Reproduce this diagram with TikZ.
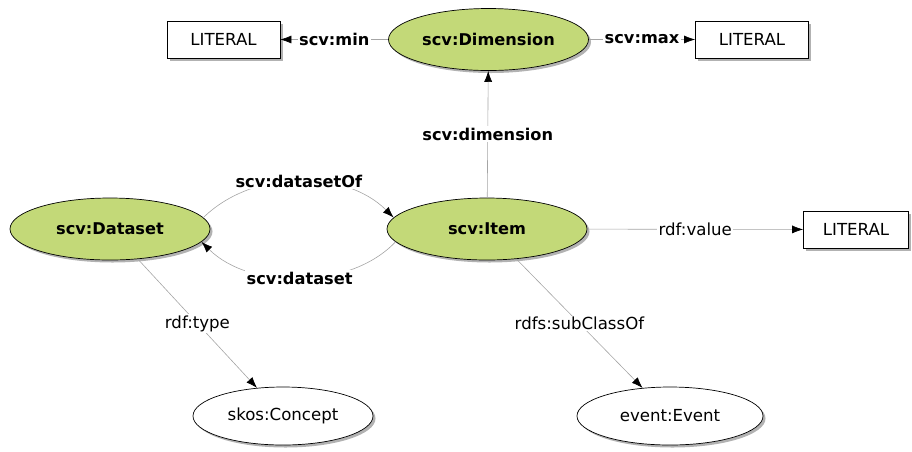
\documentclass[tikz,border=0pt]{standalone}
\usepackage{fontspec}
\setmainfont{DejaVu Sans}
\usetikzlibrary{shapes.geometric,arrows.meta,shadows}
\definecolor{clsgreen}{RGB}{195,217,120}
\definecolor{edgegray}{RGB}{165,165,165}
\begin{document}
\begin{tikzpicture}[x=1pt,y=-1pt,
  shad/.style={drop shadow={shadow xshift=2.5pt,shadow yshift=-2.5pt,fill=black,opacity=0.3}},
  regfont/.style={font=\fontsize{16.6}{19}\selectfont},
  boldfont/.style={font=\fontsize{16.2}{19}\selectfont\bfseries},
  clsnode/.style={ellipse,draw=black,line width=0.7pt,fill=clsgreen,minimum width=200pt,minimum height=62pt,inner sep=0pt,boldfont,shad},
  extnode/.style={ellipse,draw=black,line width=0.7pt,fill=white,minimum width=180pt,minimum height=58pt,inner sep=0pt,regfont,shad},
  litnode/.style={rectangle,draw=black,line width=0.7pt,fill=white,minimum width=113pt,minimum height=37pt,inner sep=0pt,regfont,shad},
  edge/.style={draw=edgegray,line width=0.6pt,-{Latex[length=11pt,width=8pt,black]}},
  lbl/.style={fill=white,inner sep=1.5pt,regfont},
  blbl/.style={fill=white,inner sep=1.5pt,boldfont}]
\useasboundingbox (0,0) rectangle (912,451);
% nodes
\node[clsnode] (dim) at (488.5,39.5) {scv:Dimension};
\node[litnode] (litL) at (223.5,39.5) {LITERAL};
\node[litnode] (litR) at (752,39.5) {LITERAL};
\node[clsnode] (ds) at (110,229) {scv:Dataset};
\node[clsnode] (it) at (487,229) {scv:Item};
\node[litnode,minimum width=105pt] (litV) at (856,229.5) {LITERAL};
\node[extnode] (sk) at (283,416) {skos:Concept};
\node[extnode,minimum width=186pt] (ev) at (670,416) {event:Event};
% edges
\draw[edge] (dim) -- node[blbl] {scv:min} (litL);
\draw[edge] (dim) -- node[blbl] {scv:max} (litR);
\draw[edge] (it) -- node[blbl] {scv:dimension} (dim);
\draw[edge] (it) -- node[lbl] {rdf:value} (litV);
\draw[edge] (ds) -- node[lbl] {rdf:type} (sk);
\draw[edge] (it) -- node[lbl] {rdfs:subClassOf} (ev);
\draw[edge] (ds.7) .. controls (253,169) and (345,169) .. node[blbl] {scv:datasetOf} (it.173);
\draw[edge] (it.188) .. controls (350,290) and (250,290) .. node[blbl] {scv:dataset} (ds.-8);
\end{tikzpicture}
\end{document}
